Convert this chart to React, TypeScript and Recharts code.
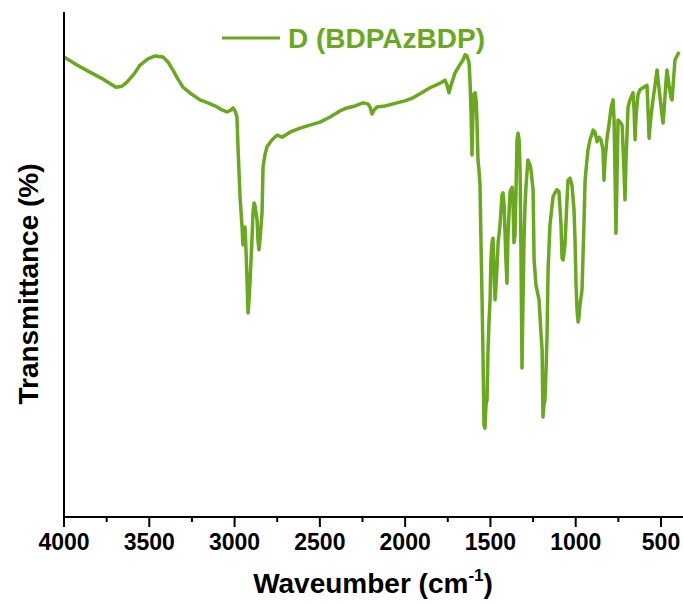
import React from 'react';
import { LineChart, Line, XAxis, YAxis } from 'recharts';

const WAVENUMBERS = [
  4000, 3924, 3848, 3771, 3695, 3660, 3631, 3590, 3554, 3508, 3466, 3420, 3390, 3361, 3332, 3302, 3255, 3203, 3156, 3103,
  3074, 3044, 3021, 3009, 2997, 2986, 2980, 2968, 2956, 2951, 2945, 2939, 2933, 2927, 2921, 2915, 2909, 2898, 2892, 2886,
  2880, 2868, 2863, 2857, 2851, 2839, 2833, 2822, 2810, 2780, 2751, 2722, 2675, 2616, 2558, 2499, 2440, 2382, 2341, 2294,
  2247, 2218, 2206, 2194, 2182, 2165, 2118, 2048, 2001, 1954, 1913, 1854, 1807, 1766, 1754, 1743, 1731, 1708, 1684, 1661,
  1649, 1637, 1625, 1620, 1614, 1608, 1602, 1596, 1590, 1584, 1579, 1573, 1567, 1561, 1555, 1549, 1543, 1538, 1532, 1526,
  1520, 1514, 1508, 1502, 1497, 1491, 1485, 1479, 1473, 1467, 1461, 1455, 1444, 1432, 1426, 1420, 1409, 1403, 1397, 1385,
  1373, 1368, 1362, 1356, 1350, 1344, 1338, 1332, 1326, 1321, 1315, 1309, 1303, 1297, 1291, 1280, 1268, 1262, 1250, 1244,
  1233, 1221, 1215, 1203, 1197, 1192, 1186, 1180, 1174, 1168, 1162, 1151, 1133, 1121, 1110, 1098, 1086, 1080, 1074, 1063,
  1051, 1045, 1033, 1022, 1010, 1004, 998, 992, 986, 981, 975, 963, 951, 945, 934, 928, 916, 898, 887, 875,
  863, 852, 840, 834, 828, 816, 805, 793, 781, 775, 769, 764, 758, 752, 740, 728, 717, 711, 705, 693,
  682, 664, 658, 652, 646, 635, 623, 605, 582, 576, 570, 564, 553, 547, 535, 523, 517, 506, 494, 488,
  482, 470, 465, 453, 441, 435, 429, 418, 406, 394,
];

const TRANSMITTANCE = [
  91.1, 89.5, 88.1, 86.7, 85.1, 85.3, 86.1, 87.7, 89.5, 90.7, 91.3, 91.1, 90.1, 88.5, 86.7, 85.1, 83.8, 82.6, 82.0, 81.2,
  80.6, 80.2, 80.6, 81.0, 80.4, 79.2, 73.3, 63.4, 57.4, 53.9, 56.4, 57.4, 52.9, 46.9, 40.4, 43.0, 46.9, 54.9, 60.2, 62.2,
  61.6, 58.8, 54.9, 52.9, 54.9, 60.2, 69.3, 71.7, 73.3, 74.7, 75.6, 75.2, 76.2, 77.0, 77.6, 78.2, 79.2, 80.4, 81.0, 81.4,
  82.0, 81.8, 81.2, 79.8, 80.6, 81.2, 81.4, 82.0, 82.4, 83.0, 83.8, 85.0, 85.7, 86.5, 85.5, 84.0, 85.5, 87.9, 89.3, 90.5,
  91.5, 91.3, 89.9, 86.5, 80.6, 71.7, 80.6, 83.8, 84.0, 82.6, 78.6, 70.7, 68.7, 65.7, 53.9, 43.0, 31.1, 18.2, 17.6, 22.2,
  23.2, 33.1, 39.0, 43.0, 50.9, 54.3, 55.2, 48.9, 43.0, 45.9, 49.9, 54.3, 57.8, 63.8, 64.2, 61.8, 50.9, 46.3, 55.8, 64.4,
  65.3, 62.8, 54.3, 55.8, 64.8, 74.7, 76.0, 74.7, 68.7, 52.9, 29.5, 43.0, 54.9, 61.8, 65.7, 70.7, 69.7, 68.7, 64.8, 50.9,
  45.9, 44.0, 43.0, 36.0, 33.1, 19.8, 22.2, 23.2, 29.1, 36.0, 48.9, 57.8, 63.4, 64.2, 64.8, 64.4, 57.8, 51.3, 50.9, 53.9,
  62.8, 66.7, 67.1, 65.7, 60.8, 54.9, 45.9, 41.0, 38.6, 39.4, 42.0, 45.0, 58.8, 66.7, 70.7, 72.7, 74.7, 76.6, 76.2, 74.3,
  75.2, 74.7, 72.7, 66.7, 70.7, 75.2, 77.6, 81.0, 82.6, 78.6, 66.7, 56.2, 66.7, 78.6, 78.2, 77.6, 68.7, 62.8, 70.7, 81.2,
  82.6, 84.0, 80.6, 74.7, 79.6, 83.6, 84.6, 85.0, 85.5, 80.6, 75.0, 77.6, 81.0, 82.6, 85.5, 88.5, 86.5, 83.2, 79.6, 78.0,
  80.6, 86.5, 88.5, 85.5, 83.0, 82.6, 85.5, 90.5, 91.3, 92.1,
];

const X_TICKS = [4000, 3750, 3500, 3250, 3000, 2750, 2500, 2250, 2000, 1750, 1500, 1250, 1000, 750, 500];
const SERIES_NAME = 'D (BDPAzBDP)';
const X_TITLE = 'Waveumber (cm';
const Y_TITLE = 'Transmittance (%)';

const data = WAVENUMBERS.map((w, i) => ({ wn: w, t: TRANSMITTANCE[i] }));

const GREEN = '#6aa81f';
const FONT = '"Liberation Sans", Arial, Helvetica, sans-serif';

const XTick = (props: any) => {
  const { x, y, payload } = props;
  const v = payload.value as number;
  const major = v % 500 === 0;
  return (
    <g>
      <line x1={x} x2={x} y1={y} y2={y + (major ? 10 : 5)} stroke="#000" strokeWidth={2} />
      {major && (
        <text x={x} y={y + 33} textAnchor="middle" fontSize={23} fontWeight="bold" fontFamily={FONT} fill="#000">
          {v}
        </text>
      )}
    </g>
  );
};

const renderXTitle = (props: any) => {
  return (
    <text x={373} y={593} textAnchor="middle" fontSize={28} fontWeight="bold" fontFamily={FONT} fill="#000">
      {X_TITLE}
      <tspan fontSize={17} dy={-12}>-1</tspan>
      <tspan dy={12}>)</tspan>
    </text>
  );
};

const renderYTitleAndLegend = (props: any) => {
  return (
    <g>
      <text
        x={0}
        y={0}
        transform="translate(38, 284) rotate(-90)"
        textAnchor="middle"
        fontSize={28}
        fontWeight="bold"
        fontFamily={FONT}
        fill="#000"
      >
        {Y_TITLE}
      </text>
      <line x1={222} x2={280} y1={38} y2={38} stroke={GREEN} strokeWidth={3} />
      <text x={288} y={48} fontSize={28} fontWeight="bold" fontFamily={FONT} fill={GREEN}>
        {SERIES_NAME}
      </text>
    </g>
  );
};

export default function App() {
  return (
    <div style={{ position: 'absolute', left: 0, top: 0, width: 683, height: 604, background: '#fff' }}>
      <LineChart width={683} height={604} data={data} margin={{ top: 12, right: 0, bottom: 0, left: 0 }}>
        <XAxis
          dataKey="wn"
          type="number"
          domain={[371, 4000]}
          reversed
          allowDataOverflow
          ticks={X_TICKS}
          interval={0}
          height={87}
          tickSize={0}
          tickMargin={0}
          tickLine={false}
          tick={<XTick />}
          axisLine={{ stroke: '#000', strokeWidth: 2 }}
          label={renderXTitle}
        />
        <XAxis
          xAxisId="top"
          orientation="top"
          dataKey="wn"
          type="number"
          domain={[371, 4000]}
          reversed
          height={0}
          tick={false}
          tickLine={false}
          axisLine={{ stroke: '#000', strokeWidth: 2 }}
        />
        <YAxis
          type="number"
          domain={[0, 100]}
          width={64}
          tick={false}
          tickLine={false}
          axisLine={{ stroke: '#000', strokeWidth: 2 }}
          label={renderYTitleAndLegend}
        />
        <Line
          dataKey="t"
          type="linear"
          stroke={GREEN}
          strokeWidth={3.5}
          strokeLinejoin="round"
          dot={false}
          isAnimationActive={false}
        />
      </LineChart>
    </div>
  );
}
